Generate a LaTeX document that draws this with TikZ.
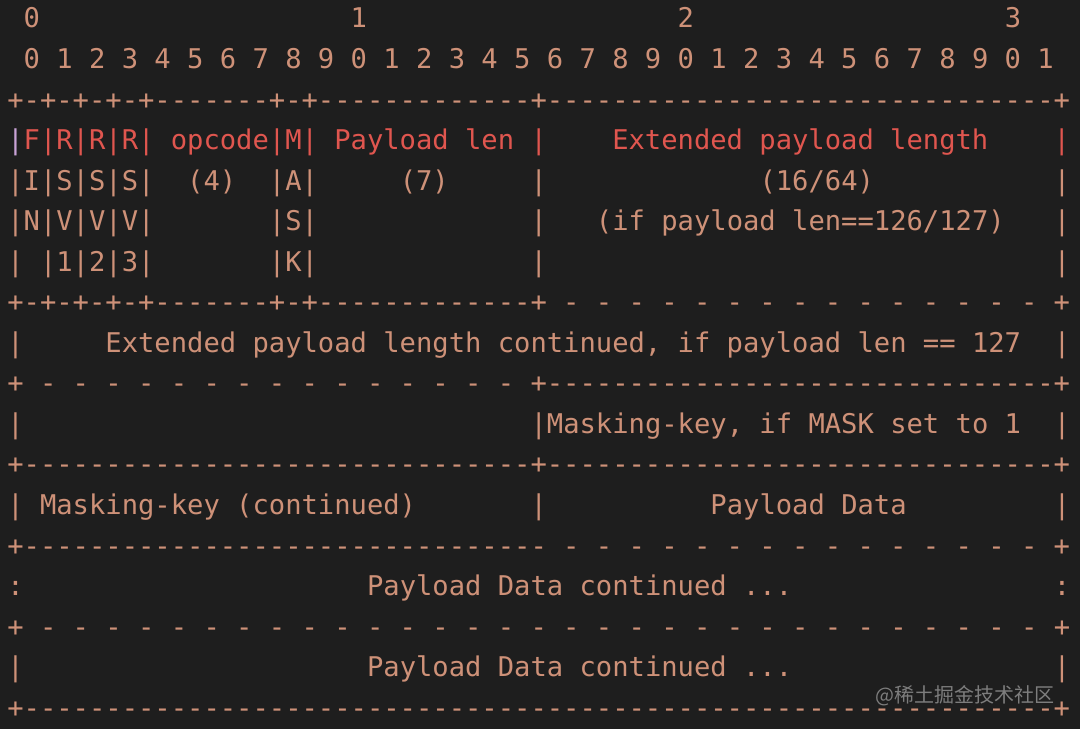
\documentclass[tikz,border=0pt]{standalone}
\usepackage{fontspec}
\setmonofont{DejaVu Sans Mono}
\newfontfamily\cjk{Noto Sans CJK SC}
\definecolor{bgc}{HTML}{1E1E1E}
\definecolor{tan}{HTML}{CE9178}
\definecolor{redc}{HTML}{E0564F}
\definecolor{lav}{HTML}{C8A2D6}
\definecolor{wm}{RGB}{125,125,125}
\newcount\rc
\newcommand\rep[2]{\rc=#1\relax\loop\ifnum\rc>0 #2\advance\rc-1\repeat}
\newcommand\SP[1]{\kern#1\fontcharwd\font`0\relax}
\begin{document}
\begin{tikzpicture}[x=1pt,y=1pt,
  asc/.style={anchor=base west, inner sep=0pt, outer sep=0pt, text=tan,
    font=\ttfamily\fontsize{27.16}{40}\selectfont}]
\fill[bgc] (0,0) rectangle (1080,729);
\useasboundingbox (0,0) rectangle (1080,729);
\def\lx{7.33}
\node[asc] (r0) at (\lx,{701-40.54*0}) {\SP{1}0\SP{19}1\SP{19}2\SP{19}3};
\node[asc] (r1) at (\lx,{701-40.54*1}) {~0~1~2~3~4~5~6~7~8~9~0~1~2~3~4~5~6~7~8~9~0~1~2~3~4~5~6~7~8~9~0~1};
\node[asc] (r2) at (\lx,{701-40.54*2}) {+-+-+-+-+\rep{7}{-}+-+\rep{13}{-}+\rep{31}{-}+};
\node[asc] (r3) at (\lx,{701-40.54*3}) {\textcolor{lav}{|}\textcolor{redc}{F|R|R|R|~opcode|M|~Payload~len~|\SP{4}Extended~payload~length\SP{4}|}};
\node[asc] (r4) at (\lx,{701-40.54*4}) {|I|S|S|S|\SP{2}(4)\SP{2}|A|\SP{5}(7)\SP{5}|\SP{13}(16/64)\SP{11}|};
\node[asc] (r5) at (\lx,{701-40.54*5}) {|N|V|V|V|\SP{7}|S|\SP{13}|\SP{3}(if~payload~len==126/127)\SP{3}|};
\node[asc] (r6) at (\lx,{701-40.54*6}) {|\SP{1}|1|2|3|\SP{7}|K|\SP{13}|\SP{31}|};
\node[asc] (r7) at (\lx,{701-40.54*7}) {+-+-+-+-+\rep{7}{-}+-+\rep{13}{-}+\rep{15}{\SP{1}-}\SP{1}+};
\node[asc] (r8) at (\lx,{701-40.54*8}) {|\SP{5}Extended~payload~length~continued,~if~payload~len~==~127\SP{2}|};
\node[asc] (r9) at (\lx,{701-40.54*9}) {+\rep{15}{\SP{1}-}\SP{1}+\rep{31}{-}+};
\node[asc] (r10) at (\lx,{701-40.54*10}) {|\SP{31}|Masking-key,~if~MASK~set~to~1\SP{2}|};
\node[asc] (r11) at (\lx,{701-40.54*11}) {+\rep{31}{-}+\rep{31}{-}+};
\node[asc] (r12) at (\lx,{701-40.54*12}) {|~Masking-key~(continued)\SP{7}|\SP{10}Payload~Data\SP{9}|};
\node[asc] (r13) at (\lx,{701-40.54*13}) {+\rep{32}{-}\rep{15}{\SP{1}-}\SP{1}+};
\node[asc] (r14) at (\lx,{701-40.54*14}) {:\SP{21}Payload~Data~continued~...\SP{16}:};
\node[asc] (r15) at (\lx,{701-40.54*15}) {+\rep{31}{\SP{1}-}\SP{1}+};
\node[asc] (r16) at (\lx,{701-40.54*16}) {|\SP{21}Payload~Data~continued~...\SP{16}|};
\node[asc] (r17) at (\lx,{701-40.54*17}) {+\rep{63}{-}+};
\node[anchor=base east, inner sep=0pt, text=wm, font=\cjk\fontsize{20}{24}\selectfont] (wmk) at (1055,27) {@稀土掘金技术社区};
\end{tikzpicture}
\end{document}
